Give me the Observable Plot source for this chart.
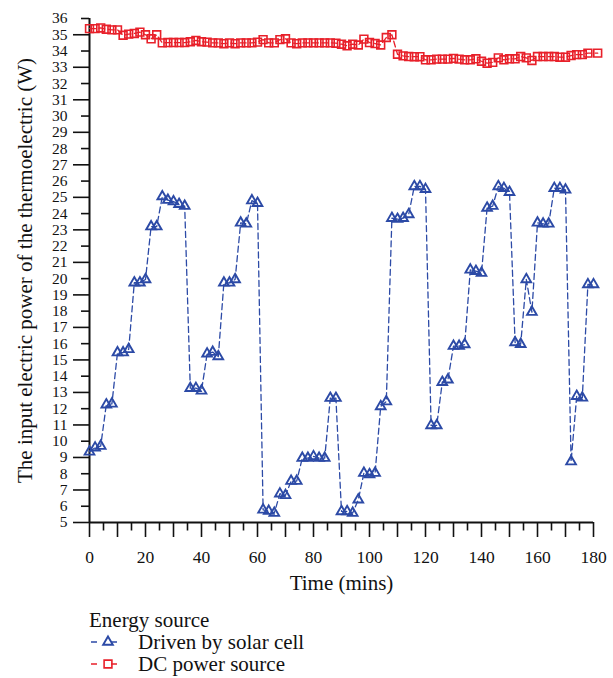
<!DOCTYPE html>
<html><head><meta charset="utf-8">
<script src="https://cdn.jsdelivr.net/npm/d3@7"></script>
<script src="https://cdn.jsdelivr.net/npm/@observablehq/plot@0.6"></script>
<style>
body{margin:0;background:#fff;font-family:"Liberation Serif",serif;color:#111;}
#wrap{position:relative;width:613px;height:678px;overflow:hidden;}
.lg{position:absolute;font-size:21px;line-height:24px;white-space:nowrap;}
</style></head><body><div id="wrap"></div>
<script>
const solarTime = [0,2,4,6,8,10,12,14,16,18,20,22,24,26,28,30,32,34,36,38,40,42,44,46,48,50,52,54,56,58,60,62,64,66,68,70,72,74,76,78,80,82,84,86,88,90,92,94,96,98,100,102,104,106,108,110,112,114,116,118,120,122,124,126,128,130,132,134,136,138,140,142,144,146,148,150,152,154,156,158,160,162,164,166,168,170,172,174,176,178,180];
const solarPower = [9.35,9.6,9.7,12.25,12.3,15.45,15.45,15.65,19.75,19.75,
 19.95,23.2,23.2,25.05,24.83,24.74,24.58,24.46,13.26,13.26,
 13.1,15.38,15.48,15.21,19.74,19.74,19.95,23.43,23.37,24.8,
 24.64,5.78,5.7,5.58,6.77,6.67,7.55,7.55,8.96,8.96,
 9.06,8.96,8.96,12.65,12.65,5.68,5.68,5.58,6.4,8.04,
 7.96,8.04,12.14,12.44,23.72,23.66,23.72,23.95,25.67,25.67,
 25.5,10.97,10.97,13.63,13.78,15.85,15.85,15.95,20.54,20.46,
 20.34,24.35,24.46,25.67,25.56,25.32,16.07,15.97,19.95,17.94,
 23.43,23.37,23.37,25.56,25.56,25.46,8.75,12.77,12.67,19.64,
 19.64];
const dcTime = [0,2,4,6,8,10,12,14,16,18,20,22,24,26,28,30,32,34,36,38,40,42,44,46,48,50,52,54,56,58,60,62,64,66,68,70,72,74,76,78,80,82,84,86,88,90,92,94,96,98,100,102,104,106,108,110,112,114,116,118,120,122,124,126,128,130,132,134,136,138,140,142,144,146,148,150,152,154,156,158,160,162,164,166,168,170,172,174,176,178,181.5];
const dcPower = [35.38,35.38,35.42,35.34,35.3,35.3,34.97,35.04,35.08,35.16,
 35.0,34.75,35.0,34.5,34.52,34.52,34.52,34.52,34.57,34.65,
 34.57,34.55,34.5,34.5,34.45,34.5,34.45,34.5,34.5,34.5,
 34.55,34.7,34.5,34.5,34.7,34.75,34.5,34.45,34.5,34.5,
 34.5,34.5,34.5,34.5,34.48,34.42,34.32,34.42,34.37,34.73,
 34.52,34.46,34.37,34.83,35.0,33.8,33.7,33.66,33.65,33.65,
 33.46,33.46,33.5,33.5,33.5,33.55,33.5,33.46,33.46,33.52,
 33.37,33.25,33.3,33.58,33.46,33.52,33.52,33.66,33.58,33.42,
 33.66,33.66,33.66,33.66,33.62,33.62,33.72,33.78,33.78,33.87,
 33.87];
const xTickLabels = [0,20,40,60,80,100,120,140,160,180];
const xMajorTicks = [0,10,20,30,40,50,60,70,80,90,100,110,120,130,140,150,160,170,180];
const xMinorTicks = [5,15,25,35,45,55,65,75,85,95,105,115,125,135,145,155,165,175];
const yTickLabels = [5,6,7,8,9,10,11,12,13,14,15,16,17,18,19,20,21,22,23,24,25,26,27,28,29,30,31,32,33,34,35,36];
const yLongTicks = [5,7,9,11,13,15,17,19,21,23,25,27,29,31,33,35];
const yShortTicks = [6,8,10,12,14,16,18,20,22,24,26,28,30,32,34,36];
const seriesNames = ["Driven by solar cell","DC power source"];
const legendTitle = "Energy source";
const xTitle = "Time (mins)";
const yTitle = "The input electric power of the thermoelectric (W)";

const blue = "#2c4aa6", red = "#e8202a", ink = "#111";
const solar = solarTime.map((t,i)=>({t, v: solarPower[i]}));
const dc = dcTime.map((t,i)=>({t, v: dcPower[i]}));
const none = () => "";

const plot = Plot.plot({
  width: 613, height: 600,
  marginLeft: 89, marginRight: 20, marginTop: 18, marginBottom: 78,
  x: {domain: [0,180]},
  y: {domain: [5,36]},
  style: {fontFamily: "Liberation Serif", fontSize: "17px", color: ink, background: "#fff"},
  marks: [
    Plot.axisX({ticks: xMajorTicks, tickSize: 15, tickFormat: none, label: null, strokeWidth: 1.6}),
    Plot.axisX({ticks: xMinorTicks, tickSize: 8.5, tickFormat: none, label: null, strokeWidth: 1.6}),
    Plot.axisX({ticks: xTickLabels, tickSize: 0, tickPadding: 28, label: null, fontSize: 17.5}),
    Plot.axisY({ticks: yLongTicks, tickSize: 16, tickFormat: none, label: null, strokeWidth: 1.6}),
    Plot.axisY({ticks: yShortTicks, tickSize: 8, tickFormat: none, label: null, strokeWidth: 1.6}),
    Plot.axisY({ticks: yTickLabels, tickSize: 0, tickPadding: 22, label: null, fontSize: 15.5}),
    Plot.ruleX([0], {stroke: ink, strokeWidth: 2}),
    Plot.ruleY([5], {stroke: ink, strokeWidth: 2}),
    Plot.text([yTitle], {frameAnchor: "left", dx: -64, rotate: -90, fontSize: 21, fill: ink, textAnchor: "middle", lineAnchor: "middle"}),
    Plot.text([xTitle], {frameAnchor: "bottom", dy: 61, fontSize: 21, fill: ink, lineAnchor: "middle"}),
    Plot.line(solar, {x: "t", y: "v", stroke: blue, strokeWidth: 1.3, strokeDasharray: "6,3.5"}),
    Plot.dot(solar, {x: "t", y: "v", symbol: "triangle", r: 3.6, stroke: blue, strokeWidth: 1.9, fill: "none"}),
    Plot.line(dc, {x: "t", y: "v", stroke: red, strokeWidth: 1.3, strokeDasharray: "6,3.5"}),
    Plot.dot(dc, {x: "t", y: "v", symbol: "square", r: 4.4, stroke: red, strokeWidth: 1.6, fill: "none"})
  ]
});
const wrap = document.getElementById("wrap");
wrap.appendChild(plot);

function addText(txt, x, cy) {
  const d = document.createElement("div");
  d.className = "lg";
  d.textContent = txt;
  d.style.left = x + "px";
  d.style.top = (cy - 12) + "px";
  wrap.appendChild(d);
}
addText(legendTitle, 89, 620);
const legendRows = [
  {name: seriesNames[0], color: blue, symbol: d3.symbolTriangle, size: 3.6*3.6*Math.PI, sw: 1.9, cy: 642},
  {name: seriesNames[1], color: red, symbol: d3.symbolSquare, size: 4.4*4.4*Math.PI, sw: 1.6, cy: 664}
];
for (const row of legendRows) {
  const svg = d3.create("svg").attr("width", 45).attr("height", 20)
    .style("position", "absolute").style("left", "86px").style("top", (row.cy - 10) + "px");
  svg.append("line").attr("x1", 5).attr("x2", 39).attr("y1", 10).attr("y2", 10)
    .attr("stroke", row.color).attr("stroke-width", 1.3).attr("stroke-dasharray", "6,14");
  svg.append("path").attr("d", d3.symbol(row.symbol, row.size)()).attr("transform", "translate(22,10)")
    .attr("fill", "none").attr("stroke", row.color).attr("stroke-width", row.sw);
  wrap.appendChild(svg.node());
  addText(row.name, 138, row.cy);
}
</script>
</body></html>
